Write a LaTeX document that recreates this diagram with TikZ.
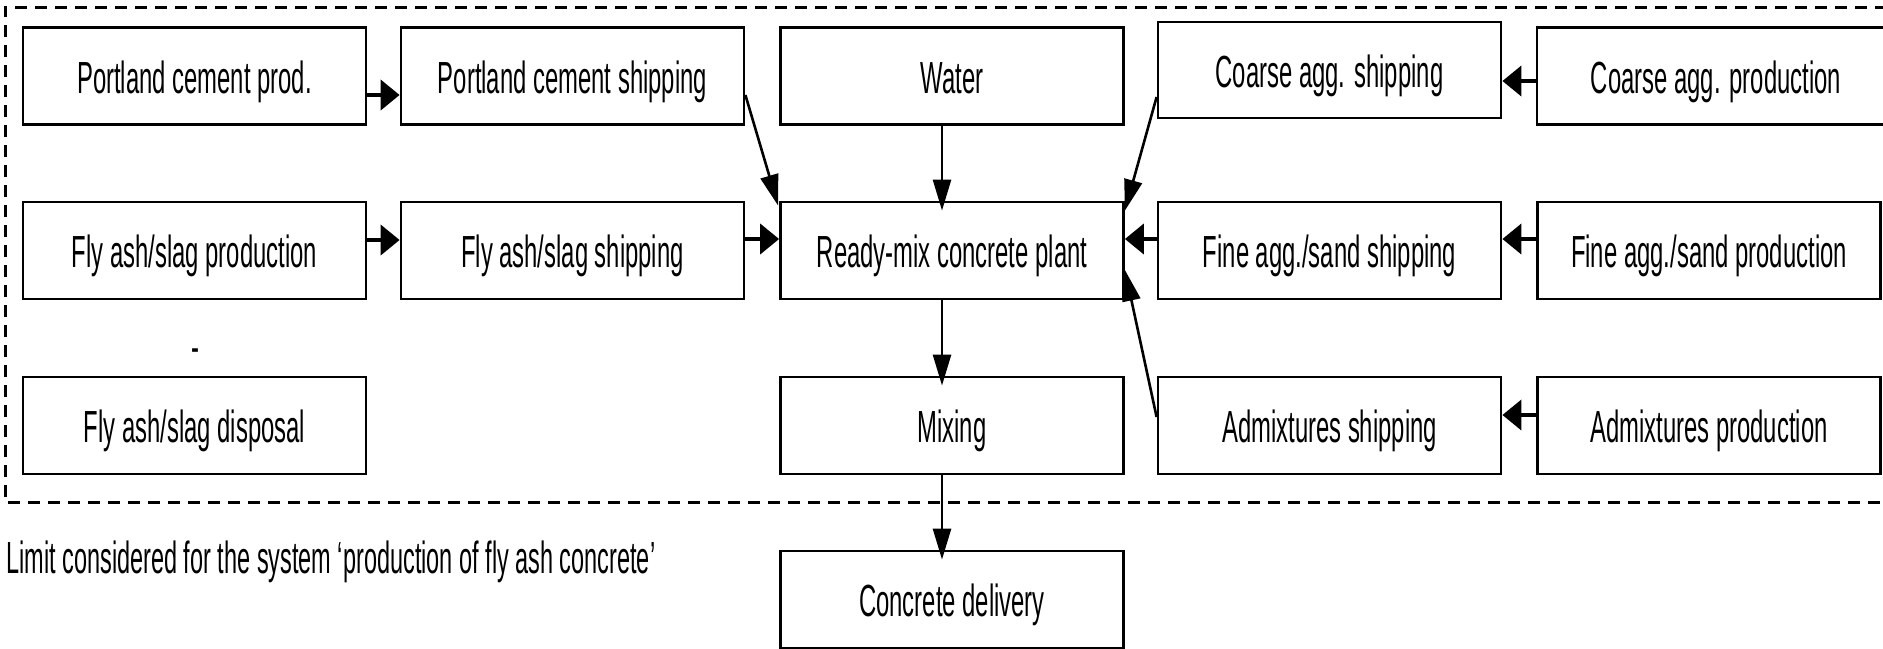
\documentclass[tikz,border=0pt]{standalone}
\usepackage{fontspec}
\setmainfont{Liberation Sans}[FakeStretch=0.53]
\usetikzlibrary{arrows.meta}
\begin{document}
\begin{tikzpicture}[x=0.5pt,y=-0.5pt,
  font=\fontsize{22.5pt}{27pt}\selectfont,
  box/.style={draw, line width=1.4pt, minimum width=171.5pt, minimum height=48.5pt, inner sep=0pt, align=center, text height=20pt, text depth=2.8pt},
  thickarrow/.style={line width=2pt, -{Triangle[length=9.5pt,width=15pt]}},
  thinarrow/.style={line width=1.3pt, -{Triangle[length=15.5pt,width=9pt]}},
  limit/.style={line width=1.5pt, dash pattern=on 6pt off 4pt}]
\useasboundingbox (0,0) rectangle (1883,648);

% system limit
\draw[limit] (1900,502) -- (5,502) -- (5,7) -- (1900,7);

% row 1
\node[box] (pcp) at (194.5,76) {Portland cement prod.};
\node[box] (pcs) at (572.5,76) {Portland cement shipping};
\node[box] (water) at (952,76) {Water};
\node[box, minimum height=48pt] (cas) at (1329.5,70) {Coarse agg. shipping};
\node[box, minimum width=179pt] (cap) at (1716,76) {Coarse agg. production};

% row 2
\node[box] (fap) at (194.5,250.5) {Fly ash/slag production};
\node[box] (fas) at (572.5,250.5) {Fly ash/slag shipping};
\node[box] (rmc) at (952,250.5) {Ready-mix concrete plant};
\node[box] (fis) at (1329.5,250.5) {Fine agg./sand shipping};
\node[box] (fip) at (1709,250.5) {Fine agg./sand production};

% row 3
\node[box] (fad) at (194.5,425.5) {Fly ash/slag disposal};
\node[box] (mix) at (952,425.5) {Mixing};
\node[box] (ads) at (1329.5,425.5) {Admixtures shipping};
\node[box] (adp) at (1709,425.5) {Admixtures production};

% outside
\node[box] (cd) at (952,599.5) {Concrete delivery};
\node[anchor=west, inner sep=0pt, xscale=0.985] (lim) at (6,562) {Limit considered for the system ‘production of fly ash concrete’};
\node[anchor=base, inner sep=0pt] (dash) at (195,362.6) {-};

% thick arrows
\draw[thickarrow] ([yshift=-9.5pt]pcp.east) -- ([yshift=-9.5pt]pcs.west);
\draw[thickarrow] ([yshift=5.25pt]fap.east) -- ([yshift=5.25pt]fas.west);
\draw[thickarrow] ([yshift=5.75pt]fas.east) -- ([yshift=5.75pt]rmc.west);
\draw[thickarrow] ([yshift=5.75pt]fis.west) -- ([yshift=5.75pt]rmc.east);
\draw[thickarrow] ([yshift=-2.5pt]cap.west) -- ([yshift=-5.5pt]cas.east);
\draw[thickarrow] ([yshift=5.75pt]fip.west) -- ([yshift=5.75pt]fis.east);
\draw[thickarrow] ([yshift=5.25pt]adp.west) -- ([yshift=5.25pt]ads.east);

% thin arrows
\draw[thinarrow] ([xshift=-5pt]water.south) -- ([xshift=-5pt,yshift=-5pt]rmc.north);
\draw[thinarrow] ([xshift=-5pt]rmc.south) -- ([xshift=-5pt,yshift=-5pt]mix.north);
\draw[thinarrow] ([xshift=-5pt]mix.south) -- ([xshift=-5pt,yshift=-5pt]cd.north);
\draw[thinarrow] ([yshift=-9.5pt]pcs.east) -- ([xshift=-0.5pt,yshift=-2.5pt]rmc.north west);
\draw[thinarrow] ([yshift=-13.5pt]cas.west) -- ([yshift=-5pt]rmc.north east);
\draw[thinarrow] ([yshift=4.25pt]ads.west) -- ([yshift=-9.75pt]rmc.east);
\end{tikzpicture}
\end{document}
